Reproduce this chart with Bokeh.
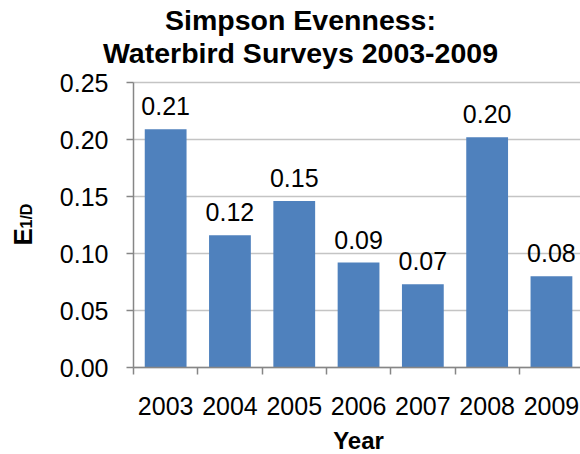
import math
from bokeh.plotting import figure
from bokeh.models import Range1d, FixedTicker, NumeralTickFormatter, Label, ColumnDataSource
from bokeh.embed import file_html
from bokeh.resources import INLINE
from bokeh.core.properties import value

# ---- data ----
years = ["2003", "2004", "2005", "2006", "2007", "2008", "2009"]
evenness = [0.209, 0.116, 0.146, 0.092, 0.073, 0.202, 0.080]
value_labels = ["0.21", "0.12", "0.15", "0.09", "0.07", "0.20", "0.08"]
y_ticks = [0.00, 0.05, 0.10, 0.15, 0.20, 0.25]
title_lines = ["Simpson Evenness:", "Waterbird Surveys 2003-2009"]
x_title = "Year"
y_title_main = "E"
y_title_sub = "1/D"

FONT = "Liberation Sans"
BAR = "#4F81BD"
AXIS = "#868686"
GRID = "#C4C4C4"

W, H = 580, 454
OFF = 0          # page offset of the canvas
AX_X = 133       # y axis position (page px)
STEP = 64.3      # pixels per category
Y0, Y25 = 367, 82   # pixel rows of 0.00 and 0.25
YMAX = 0.25
PPU = (Y0 - Y25) / YMAX

n = len(years)
positions = list(range(1, n + 1))


def dx(px):
    return 0.5 + (px - AX_X) / STEP


def dy(py):
    return (Y0 - py) / PPU


x_start, x_end = dx(OFF), dx(OFF + W)
y_start, y_end = dy(OFF + H), dy(OFF)

src = ColumnDataSource(dict(x=positions, y=evenness, label=value_labels))
grid_src = ColumnDataSource(dict(y=y_ticks,
                                 x0=[0.5] * len(y_ticks),
                                 x1=[x_end] * len(y_ticks)))

p = figure(width=W, height=H, output_backend="svg", toolbar_location=None,
           title=None,
           x_range=Range1d(x_start, x_end), y_range=Range1d(y_start, y_end),
           min_border=0)
p.outline_line_color = None
p.background_fill_color = "white"
p.border_fill_color = "white"
p.xgrid.visible = False
p.ygrid.visible = False

# horizontal gridlines at the y ticks, limited to the plot area
p.segment(x0="x0", x1="x1", y0="y", y1="y", source=grid_src,
          line_color=GRID, line_width=1.5)

p.vbar(x="x", top="y", width=0.65, source=src, fill_color=BAR, line_color=None)

p.text(x="x", y="y", text="label", source=src, y_offset=-23,
       text_align="center", text_baseline="alphabetic",
       text_font=value(FONT), text_font_size="25px", text_color="black")

# y axis (drawn at the first category edge, inside the frame)
ya = p.yaxis[0]
ya.fixed_location = 0.5
ya.bounds = (0, YMAX)
ya.ticker = FixedTicker(ticks=y_ticks)
ya.formatter = NumeralTickFormatter(format="0.00")
ya.axis_line_color = AXIS
ya.axis_line_width = 1.5
ya.major_tick_line_color = AXIS
ya.major_tick_line_width = 1.5
ya.major_tick_out = 7
ya.major_tick_in = 0
ya.minor_tick_line_color = None
ya.major_label_standoff = 18
ya.major_label_text_font = FONT
ya.major_label_text_font_size = "25px"
ya.major_label_text_color = "black"

# x axis
xa = p.xaxis[0]
xa.fixed_location = 0
xa.bounds = (0.5, x_end)
xa.ticker = FixedTicker(ticks=positions, minor_ticks=[v - 0.5 for v in positions])
xa.major_label_overrides = {v: y for v, y in zip(positions, years)}
xa.axis_line_color = AXIS
xa.axis_line_width = 1.5
xa.major_tick_line_color = None
xa.major_tick_out = 0
xa.major_tick_in = 0
xa.minor_tick_line_color = AXIS
xa.minor_tick_line_width = 1.5
xa.minor_tick_out = 7
xa.minor_tick_in = 0
xa.major_label_standoff = 22
xa.major_label_text_font = FONT
xa.major_label_text_font_size = "25px"
xa.major_label_text_color = "black"

# titles
for txt, base in zip(title_lines, [19, 52]):
    p.add_layout(Label(x=dx(300), y=dy(base), text=txt, text_align="center",
                       text_baseline="alphabetic", text_font=FONT,
                       text_font_size="28.5px", text_font_style="bold", text_color="black"))

p.add_layout(Label(x=(positions[0] + positions[-1]) / 2, y=dy(440), text=x_title,
                   text_align="center", text_baseline="alphabetic", text_font=FONT,
                   text_font_size="24px", text_font_style="bold", text_color="black"))

p.add_layout(Label(x=dx(22), y=dy(245), text=y_title_main, angle=math.pi / 2,
                   text_align="left", text_baseline="alphabetic", text_font=FONT,
                   text_font_size="26px", text_font_style="bold", text_color="black"))
p.add_layout(Label(x=dx(26), y=dy(228), text=y_title_sub, angle=math.pi / 2,
                   text_align="left", text_baseline="alphabetic", text_font=FONT,
                   text_font_size="16px", text_font_style="bold", text_color="black"))

open("out.html", "w").write(file_html(p, INLINE))
